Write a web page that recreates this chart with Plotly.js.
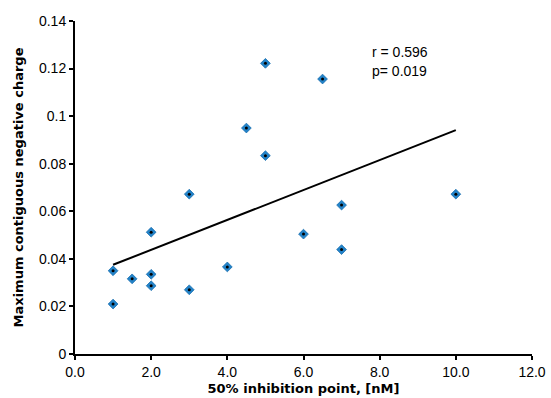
<!DOCTYPE html>
<html>
<head>
<meta charset="utf-8">
<script src="https://cdn.plot.ly/plotly-3.0.1.min.js"></script>
<style>html,body{margin:0;padding:0;background:#fff;}#chart{width:551px;height:398px;}</style>
</head>
<body>
<div id="chart"></div>
<script>
var inhibition = [1, 1, 1.5, 2, 2, 2, 3, 3, 4, 4.5, 5, 5, 6, 6.5, 7, 7, 10];
var negCharge = [0.035, 0.021, 0.0316, 0.0335, 0.0287, 0.0512, 0.0672, 0.027, 0.0366, 0.095, 0.1222, 0.0834, 0.0504, 0.1156, 0.0626, 0.0439, 0.0672];
var trendX = [1, 10];
var trendY = [0.0375, 0.0941];
var statsText = ["r = 0.596", "p= 0.019"];

var font = "Liberation Sans, Arial, Helvetica, sans-serif";
var titleFont = "DejaVu Sans, Liberation Sans, Arial, sans-serif";

var traces = [
  {x: trendX, y: trendY, mode: "lines", type: "scatter",
   line: {color: "#000", width: 2}, hoverinfo: "skip"},
  {x: inhibition, y: negCharge, mode: "markers", type: "scatter",
   marker: {symbol: "diamond", size: 7.5, color: "#2283c9", line: {width: 0.8, color: "#1b6fae"}}},
  {x: inhibition, y: negCharge, mode: "markers", type: "scatter",
   marker: {symbol: "circle", size: 3, color: "#000", line: {width: 0}}}
];

var layout = {
  width: 551, height: 398,
  margin: {l: 75, r: 19, t: 21, b: 44},
  showlegend: false,
  paper_bgcolor: "#fff", plot_bgcolor: "#fff",
  font: {family: font, size: 14, color: "#000"},
  xaxis: {
    range: [0, 12], tickvals: [0, 2, 4, 6, 8, 10, 12], tickformat: ".1f",
    showgrid: false, zeroline: false, showline: true, linecolor: "#000", linewidth: 2,
    ticks: "outside", ticklen: 4, tickwidth: 2, tickcolor: "#000",
    tickfont: {family: font, size: 14},
    title: {text: "<b>50% inhibition point, [nM]</b>", font: {family: titleFont, size: 13}, standoff: 5}
  },
  yaxis: {
    range: [0, 0.14], tickvals: [0, 0.02, 0.04, 0.06, 0.08, 0.1, 0.12, 0.14],
    ticktext: ["0", "0.02", "0.04", "0.06", "0.08", "0.1", "0.12", "0.14"],
    showgrid: false, zeroline: false, showline: true, linecolor: "#000", linewidth: 2,
    ticks: "outside", ticklen: 4, tickwidth: 2, tickcolor: "#000",
    tickfont: {family: font, size: 14},
    title: {text: "<b>Maximum contiguous negative charge</b>", font: {family: titleFont, size: 13}, standoff: 12}
  },
  annotations: [
    {xref: "paper", yref: "paper", x: (370 - 75) / 457, y: (354 - 52) / 333, xanchor: "left", yanchor: "middle",
     text: statsText[0], showarrow: false, font: {family: font, size: 14}},
    {xref: "paper", yref: "paper", x: (370 - 75) / 457, y: (354 - 71) / 333, xanchor: "left", yanchor: "middle",
     text: statsText[1], showarrow: false, font: {family: font, size: 14}}
  ]
};

Plotly.newPlot("chart", traces, layout, {displayModeBar: false, staticPlot: true});
</script>
</body>
</html>
